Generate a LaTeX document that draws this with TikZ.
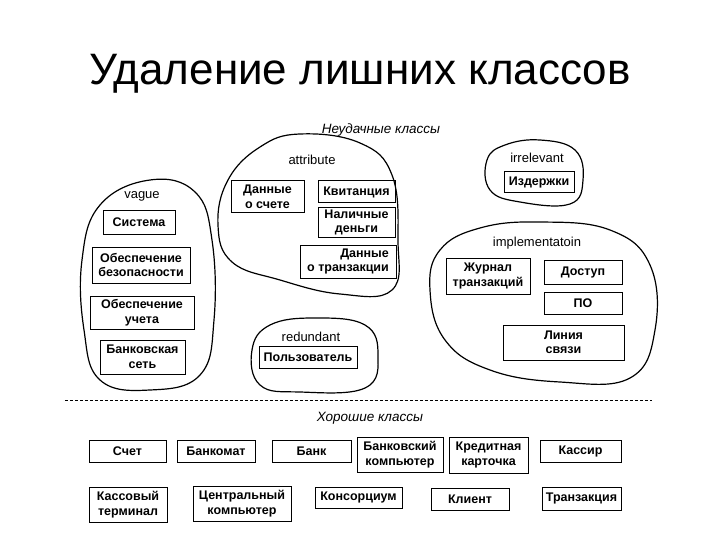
\documentclass[tikz,border=0pt]{standalone}
\usepackage{fontspec}
\setmainfont{Liberation Sans}
\usepackage{tikz}
\usetikzlibrary{positioning}

\tikzset{
  cls/.style={rectangle, draw, line width=1pt, font=\fontsize{12.5}{14.5}\selectfont\bfseries,
              align=center, inner sep=1pt},
  blob/.style={line width=1.2pt, smooth cycle, tension=0.7},
  grp/.style={font=\fontsize{13}{15}\selectfont},
  hdr/.style={font=\fontsize{13.5}{15}\selectfont\itshape}
}

\begin{document}
\begin{tikzpicture}[x=1pt, y=-1pt]
  \useasboundingbox (0,0) rectangle (720,540);

  \node[anchor=base, font=\fontsize{44}{50}\selectfont] (title) at (360,85) {Удаление лишних классов};

  % bad classes
  \node[hdr] (bad) at (381,130) {Неудачные классы};

  % vague
  \draw[blob] plot coordinates {(150,180) (195,192) (212,240) (214,320) (200,375) (150,390) (100,380) (84,330) (82,260) (100,205)};
  \node[grp] (vague) at (142,196) {vague};
  \node[cls, minimum width=72pt, minimum height=23pt] (sys) at (139,222.5) {Система};
  \node[cls, minimum width=98pt, minimum height=36pt] (sec) at (141,265) {Обеспечение\\безопасности};
  \node[cls, minimum width=104pt, minimum height=33pt] (acc) at (142,312.5) {Обеспечение\\учета};
  \node[cls, minimum width=85pt, minimum height=34pt] (net) at (142.5,357) {Банковская\\сеть};

  % attribute
  \draw[blob] plot coordinates {(300,134) (360,143) (392,175) (398,240) (392,290) (340,294) (280,280) (232,262) (218,225) (228,180) (260,147)};
  \node[grp] (attr) at (312,160) {attribute};
  \node[cls, minimum width=73pt, minimum height=32pt] (accdata) at (267.5,197) {Данные\\о счете};
  \node[cls, minimum width=77pt, minimum height=22pt] (rcpt) at (356.5,192) {Квитанция};
  \node[cls, minimum width=77pt, minimum height=29pt] (cash) at (356.5,222.5) {Наличные\\деньги};
  \node[cls, align=right, minimum width=96pt, minimum height=33pt] (trdata) at (348,261.5) {Данные\\о транзакции};

  % irrelevant
  \draw[blob] plot coordinates {(540,140) (575,150) (583,180) (570,204) (520,202) (490,190) (487,160) (505,145)};
  \node[grp] (irr) at (537,158) {irrelevant};
  \node[cls, minimum width=70pt, minimum height=21pt] (cost) at (539,182.5) {Издержки};

  % implementation
  \draw[blob] plot coordinates {(540,222) (610,230) (650,265) (655,330) (630,378) (560,382) (490,370) (445,340) (430,290) (440,250) (480,228)};
  \node[grp] (impl) at (537,243) {implementatoin};
  \node[cls, minimum width=84pt, minimum height=36pt] (log) at (488,276) {Журнал\\транзакций};
  \node[cls, minimum width=78pt, minimum height=24pt] (acs) at (583,272) {Доступ};
  \node[cls, minimum width=78pt, minimum height=22pt] (sw) at (583,303) {ПО};
  \node[cls, minimum width=121pt, minimum height=35pt] (line) at (563.5,342.5) {Линия\\связи};

  % redundant
  \draw[blob] plot coordinates {(315,318) (365,325) (378,355) (365,388) (300,392) (260,385) (252,350) (270,325)};
  \node[grp] (red) at (311,337) {redundant};
  \node[cls, minimum width=98pt, minimum height=22pt] (user) at (308,357) {Пользователь};

  % separator
  \coordinate (sepL) at (65,400);
  \coordinate (sepR) at (652,400);
  \draw[line width=0.9pt, dash pattern=on 3pt off 2pt] (sepL) -- (sepR);

  % good classes
  \node[hdr] (good) at (370,418) {Хорошие классы};
  \node[cls, minimum width=77pt, minimum height=22pt] (acct) at (127.5,451) {Счет};
  \node[cls, minimum width=78pt, minimum height=22pt] (atm) at (216,451) {Банкомат};
  \node[cls, minimum width=79pt, minimum height=22pt] (bank) at (311.5,451) {Банк};
  \node[cls, minimum width=86pt, minimum height=35pt] (bcomp) at (400,454.5) {Банковский\\компьютер};
  \node[cls, minimum width=79pt, minimum height=36pt] (card) at (488.5,455) {Кредитная\\карточка};
  \node[cls, minimum width=81pt, minimum height=22pt] (cashier) at (580.5,451) {Кассир};
  \node[cls, minimum width=78pt, minimum height=35pt] (term) at (128,504.5) {Кассовый\\терминал};
  \node[cls, minimum width=98pt, minimum height=35pt] (ccomp) at (242,503.5) {Центральный\\компьютер};
  \node[cls, minimum width=87pt, minimum height=21pt] (cons) at (358.5,497.5) {Консорциум};
  \node[cls, minimum width=78pt, minimum height=22pt] (client) at (470,499) {Клиент};
  \node[cls, minimum width=79pt, minimum height=23pt] (trans) at (581.5,498.5) {Транзакция};
\end{tikzpicture}
\end{document}
